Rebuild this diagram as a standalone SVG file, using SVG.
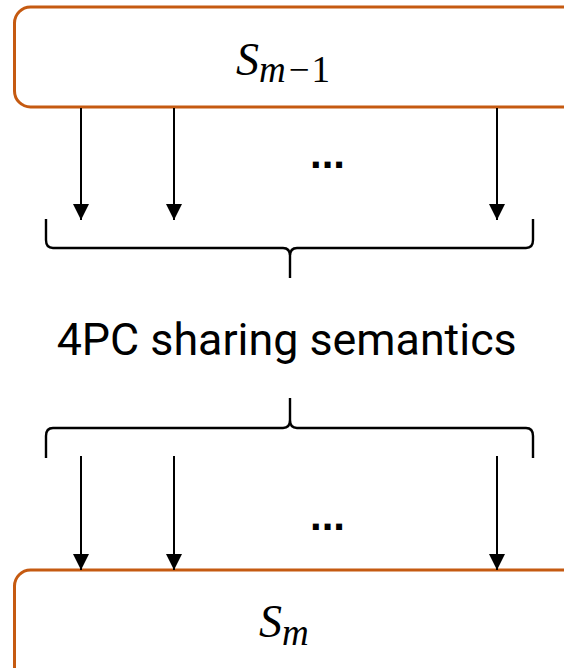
<svg xmlns="http://www.w3.org/2000/svg" width="564" height="668" viewBox="0 0 564 668">
  <style>
    .state { fill: #ffffff; stroke: #C55A11; stroke-width: 3; }
    .math { font-family: "Liberation Serif", "DejaVu Serif", serif; fill: #000000; }
    .it { font-style: italic; }
    .flow { stroke: #000000; stroke-width: 2; fill: none; }
    .brace { stroke: #000000; stroke-width: 2.4; fill: none; stroke-linejoin: round; stroke-linecap: butt; }
    .label { font-family: Roboto, "Liberation Sans", sans-serif; font-size: 45px; fill: #000000; }
    .dots { font-family: "Liberation Sans", Arial, sans-serif; font-weight: bold; font-size: 42px; fill: #000000; }
  </style>
  <defs>
    <marker id="arrowhead" markerUnits="userSpaceOnUse" markerWidth="16" markerHeight="16" refX="16" refY="8" orient="auto">
      <path d="M0,0 L16,8 L0,16 Z" fill="#000000"/>
    </marker>
  </defs>

  <!-- previous state -->
  <g id="state-prev">
    <rect class="state" x="14.5" y="7" width="600" height="100" rx="16" ry="16"/>
    <text class="math" x="236" y="75"><tspan class="it" font-size="46">S</tspan><tspan class="it" font-size="37" dy="7">m</tspan><tspan font-size="37" dx="3">−</tspan><tspan font-size="37" dx="2">1</tspan></text>
  </g>

  <!-- next state -->
  <g id="state-next">
    <rect class="state" x="14.5" y="570" width="600" height="120" rx="16" ry="16"/>
    <text class="math" x="259" y="637"><tspan class="it" font-size="46">S</tspan><tspan class="it" font-size="37" dy="8">m</tspan></text>
  </g>

  <!-- sharing semantics label -->
  <g id="semantics">
    <text class="label" x="286.7" y="355" text-anchor="middle" textLength="460" lengthAdjust="spacingAndGlyphs">4PC sharing semantics</text>
  </g>

  <g id="connectors">
    <!-- shares leaving S_{m-1} -->
    <line class="flow" x1="81" y1="108" x2="81" y2="220" marker-end="url(#arrowhead)"/>
    <line class="flow" x1="174" y1="108" x2="174" y2="220" marker-end="url(#arrowhead)"/>
    <line class="flow" x1="497" y1="108" x2="497" y2="220" marker-end="url(#arrowhead)"/>
    <text class="dots" x="310" y="168">...</text>

    <!-- upper brace gathering the shares -->
    <path class="brace" d="M46,219 L46,240 Q46,248 53,248 L283,248 Q290,248 290,256 L290,278 M290,256 Q290,248 297,248 L526,248 Q533,248 533,240 L533,219"/>

    <!-- lower brace distributing the shares -->
    <path class="brace" d="M46,458 L46,436 Q46,428 53,428 L283,428 Q290,428 290,420 L290,398 M290,420 Q290,428 297,428 L526,428 Q533,428 533,436 L533,458"/>

    <!-- shares entering S_m -->
    <line class="flow" x1="81" y1="456" x2="81" y2="570" marker-end="url(#arrowhead)"/>
    <line class="flow" x1="174" y1="456" x2="174" y2="570" marker-end="url(#arrowhead)"/>
    <line class="flow" x1="497" y1="456" x2="497" y2="570" marker-end="url(#arrowhead)"/>
    <text class="dots" x="310" y="530">...</text>
  </g>
</svg>
